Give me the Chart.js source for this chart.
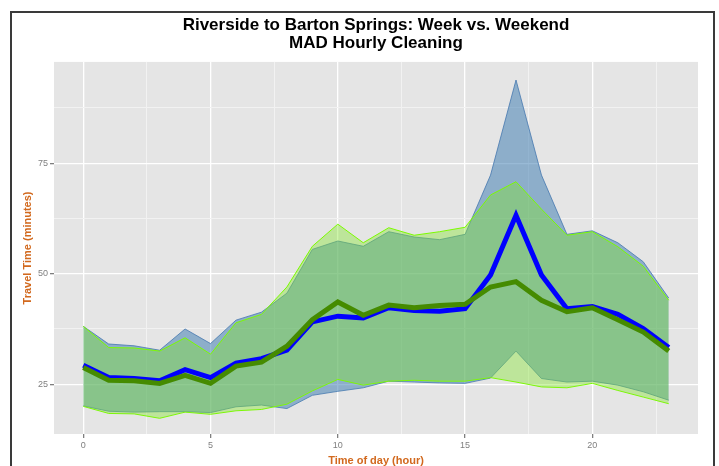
<!DOCTYPE html>
<html>
<head>
<meta charset="utf-8">
<script src="https://cdn.jsdelivr.net/npm/chart.js@4"></script>
<style>
  html, body { margin: 0; padding: 0; background: #ffffff; }
  #wrap { width: 719px; height: 466px; }
</style>
</head>
<body>
<div id="wrap"><canvas id="c" width="719" height="466"></canvas></div>
<script>
// ---- data ----
const hours = [0,1,2,3,4,5,6,7,8,9,10,11,12,13,14,15,16,17,18,19,20,21,22,23];
const weekdayMedian = [29.3,26.5,26.3,25.8,28.3,26.5,29.8,30.8,32.7,39.1,40.4,40.0,42.3,41.7,41.5,42.1,49.7,63.2,49.7,42.1,42.6,40.8,37.6,33.3];
const weekendMedian = [28.8,25.9,25.8,25.2,27.0,25.2,29.1,30.0,33.6,39.6,43.6,40.6,42.9,42.3,42.8,43.1,47.0,48.2,44.0,41.4,42.3,39.6,36.8,32.5];
const weekdayHigh = [38.1,34.1,33.7,32.7,37.5,34.2,39.5,41.3,45.6,55.5,57.4,56.2,59.5,58.3,57.7,58.9,72.3,93.8,72.3,58.9,59.7,57.0,52.7,44.5];
const weekendHigh = [38.1,33.3,33.2,32.5,35.5,31.8,38.9,40.8,47.0,56.2,61.2,57.0,60.4,58.7,59.5,60.5,67.8,70.8,64.6,58.7,59.5,56.1,51.7,44.0];
const weekdayLow = [20.1,18.9,18.7,18.8,18.8,18.6,19.9,20.3,19.5,22.5,23.4,24.2,25.7,25.5,25.3,25.2,26.4,32.5,26.3,25.5,25.7,24.8,23.3,21.4];
const weekendLow = [20.0,18.4,18.3,17.3,18.7,18.2,19.0,19.3,20.5,23.5,26.1,24.8,25.7,25.9,25.7,25.7,26.5,25.5,24.4,24.2,25.2,23.6,22.1,20.6];
const xTicks = [0,5,10,15,20];
const yTicks = [25,50,75];
const titleLines = ['Riverside to Barton Springs: Week vs. Weekend', 'MAD Hourly Cleaning'];
const xTitle = 'Time of day (hour)';
const yTitle = 'Travel Time (minutes)';

const pts = arr => hours.map((h, i) => ({x: h, y: arr[i]}));

const bgPlugin = {
  id: 'bg',
  beforeDraw(chart) {
    const {ctx, chartArea: a} = chart;
    ctx.save();
    ctx.fillStyle = '#ffffff';
    ctx.fillRect(0, 0, chart.width, chart.height);
    ctx.fillStyle = '#E5E5E5';
    ctx.fillRect(a.left, a.top, a.right - a.left, a.bottom - a.top);
    ctx.restore();
  },
  afterDraw(chart) {
    const ctx = chart.ctx;
    ctx.save();
    ctx.strokeStyle = '#3a3a3a';
    ctx.lineWidth = 2;
    ctx.beginPath();
    ctx.moveTo(11, 480);
    ctx.lineTo(11, 12);
    ctx.lineTo(714, 12);
    ctx.lineTo(714, 480);
    ctx.stroke();
    ctx.restore();
  }
};

const isMajor = (v, step) => Math.abs(v / step - Math.round(v / step)) < 1e-6;

new Chart(document.getElementById('c'), {
  type: 'line',
  data: {
    datasets: [
      { label: 'weekday low', data: pts(weekdayLow), borderColor: 'rgba(70,120,175,0.8)', borderWidth: 1, pointRadius: 0, fill: false, order: 6 },
      { label: 'weekday high', data: pts(weekdayHigh), borderColor: 'rgba(70,120,175,0.8)', borderWidth: 1, pointRadius: 0, fill: '-1', backgroundColor: 'rgba(70,130,180,0.55)', order: 5 },
      { label: 'weekend low', data: pts(weekendLow), borderColor: '#7CFC00', borderWidth: 1, pointRadius: 0, fill: false, order: 4 },
      { label: 'weekend high', data: pts(weekendHigh), borderColor: '#7CFC00', borderWidth: 1, pointRadius: 0, fill: '-1', backgroundColor: 'rgba(129,229,42,0.4)', order: 3 },
      { label: 'Week', data: pts(weekdayMedian), borderColor: '#0000FF', borderWidth: 5, pointRadius: 0, fill: false, order: 2 },
      { label: 'Weekend', data: pts(weekendMedian), borderColor: '#458B00', borderWidth: 5, pointRadius: 0, fill: false, order: 1 }
    ]
  },
  options: {
    responsive: false,
    animation: false,
    devicePixelRatio: 1,
    layout: { padding: { left: 0, right: 21, top: 0, bottom: 0 } },
    elements: { line: { tension: 0 } },
    plugins: {
      legend: { display: false },
      tooltip: { enabled: false },
      title: {
        display: true,
        text: titleLines,
        fullSize: false,
        color: '#000000',
        font: { family: 'Arial, "Liberation Sans", sans-serif', size: 17, weight: 'bold', lineHeight: 1.1 },
        padding: { top: 15.5, bottom: 9 }
      }
    },
    scales: {
      x: {
        type: 'linear',
        min: -1.15,
        max: 24.15,
        afterFit(s) { s.height = 32; },
        afterBuildTicks(s) {
          const t = [];
          for (let v = 0; v <= 22.5; v += 2.5) t.push({value: v});
          s.ticks = t;
        },
        border: { display: false },
        grid: {
          color: c => isMajor(c.tick.value, 5) ? '#FFFFFF' : '#F2F2F2',
          lineWidth: c => isMajor(c.tick.value, 5) ? 1.3 : 1,
          tickColor: c => isMajor(c.tick.value, 5) ? '#7F7F7F' : 'rgba(0,0,0,0)',
          tickLength: 4
        },
        ticks: {
          autoSkip: false,
          maxRotation: 0,
          padding: 2,
          color: '#7F7F7F',
          font: { family: 'Arial, "Liberation Sans", sans-serif', size: 9 },
          callback: v => xTicks.includes(v) ? String(v) : ''
        },
        title: {
          display: true,
          text: xTitle,
          color: '#D2691E',
          font: { family: 'Arial, "Liberation Sans", sans-serif', size: 11, weight: 'bold' },
          padding: { top: 0, bottom: -1.5 }
        }
      },
      y: {
        type: 'linear',
        min: 13.75,
        max: 97.9,
        afterFit(s) { s.width = 54; },
        afterBuildTicks(s) {
          const t = [];
          for (let v = 25; v <= 87.5; v += 12.5) t.push({value: v});
          s.ticks = t;
        },
        border: { display: false },
        grid: {
          color: c => isMajor(c.tick.value, 25) ? '#FFFFFF' : '#F2F2F2',
          lineWidth: c => isMajor(c.tick.value, 25) ? 1.3 : 1,
          tickColor: c => isMajor(c.tick.value, 25) ? '#7F7F7F' : 'rgba(0,0,0,0)',
          tickLength: 4
        },
        ticks: {
          autoSkip: false,
          padding: 2,
          color: '#7F7F7F',
          font: { family: 'Arial, "Liberation Sans", sans-serif', size: 9 },
          callback: v => yTicks.includes(v) ? String(v) : ''
        },
        title: {
          display: true,
          text: yTitle,
          color: '#D2691E',
          font: { family: 'Arial, "Liberation Sans", sans-serif', size: 11, weight: 'bold' },
          padding: { top: 21.5, bottom: 0 }
        }
      }
    }
  },
  plugins: [bgPlugin]
});
</script>
</body>
</html>
